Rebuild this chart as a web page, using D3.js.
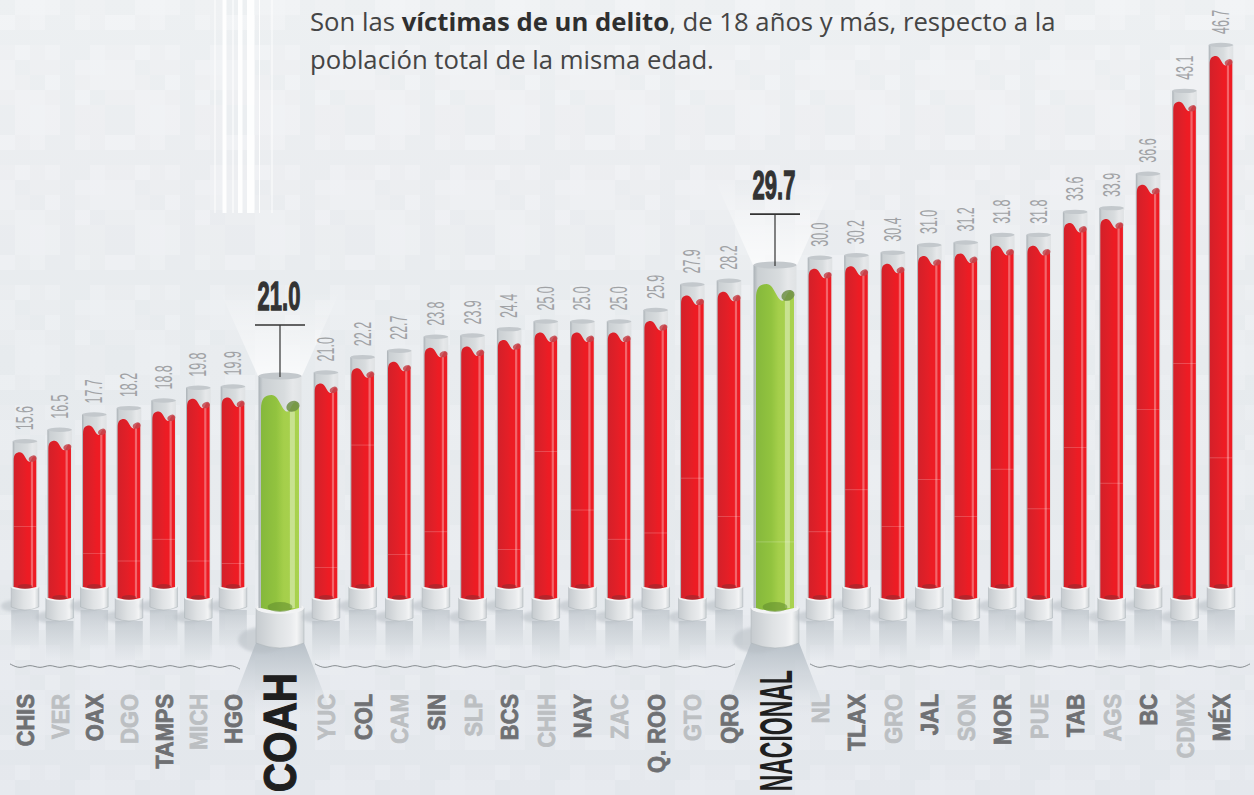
<!DOCTYPE html>
<html>
<head>
<meta charset="utf-8">
<script src="https://cdn.jsdelivr.net/npm/d3@7"></script>
<style>
  html, body { margin: 0; padding: 0; background: #e9ecf0; overflow: hidden; }
  svg { display: block; }
</style>
</head>
<body>
<script>
const width = 1254
const height = 795

const states = ['CHIS', 'VER', 'OAX', 'DGO', 'TAMPS', 'MICH', 'HGO', 'COAH', 'YUC', 'COL', 'CAM',
  'SIN', 'SLP', 'BCS', 'CHIH', 'NAY', 'ZAC', 'Q. ROO', 'GTO', 'QRO', 'NACIONAL', 'NL', 'TLAX',
  'GRO', 'JAL', 'SON', 'MOR', 'PUE', 'TAB', 'AGS', 'BC', 'CDMX', 'MÉX']
const rates = [15.6, 16.5, 17.7, 18.2, 18.8, 19.8, 19.9, 21.0, 21.0, 22.2, 22.7,
  23.8, 23.9, 24.4, 25.0, 25.0, 25.0, 25.9, 27.9, 28.2, 29.7, 30.0, 30.2,
  30.4, 31.0, 31.2, 31.8, 31.8, 33.6, 33.9, 36.6, 43.1, 46.7]
// the faint crease printed across each tube, in the same units as the rates
const creases = [8.9, null, 6.8, 6.2, 7.9, 6.2, 6.0, null, 5.7, 15.3, 6.7,
  8.5, null, 7.1, 14.8, 10.2, 7.9, 8.4, 12.7, 9.7, 7.7, 8.5, 11.8,
  8.9, 12.6, 9.7, 13.4, 10.3, 15.1, 12.3, 18.1, 21.7, 14.3]
const highlighted = ['COAH', 'NACIONAL']

const x = d3.scaleLinear()
  .domain([0, 6, 7, 8, 19, 20, 21, 32])
  .range([25, 233, 280, 326, 729, 775, 820, 1221])
const y = d3.scaleLinear().domain([0, 46.7]).range([640, 45])

const rows = states.map((name, i) => {
  const big = highlighted.includes(name)
  const last = i < 7 ? -1 : i < 20 ? 7 : 20
  const lower = !big && (i - last) % 2 === (i < 7 ? 0 : 1)
  return { name, i, rate: rates[i], crease: creases[i], big, lower }
})

const svg = d3.select('body').append('svg').attr('width', width).attr('height', height)
const defs = svg.append('defs')

function gradient(id, stops, vertical) {
  const g = defs.append('linearGradient').attr('id', id)
    .attr('x1', 0).attr('y1', 0)
    .attr('x2', vertical ? 0 : 1).attr('y2', vertical ? 1 : 0)
  stops.forEach(s => g.append('stop')
    .attr('offset', s[0]).attr('stop-color', s[1]).attr('stop-opacity', s[2] === undefined ? 1 : s[2]))
}

gradient('page', [[0, '#f1f3f5'], [0.45, '#eaedf1'], [1, '#e6e9ee']], true)
gradient('glass', [[0, '#aab1b6'], [0.1, '#cbd0d3'], [0.6, '#d8dcde'], [0.8, '#e6e8ea'], [1, '#dfe2e4']])
gradient('red', [[0, '#d32029'], [0.45, '#e41f27'], [0.6, '#ed1c24'], [1, '#ee1c24']])
gradient('green', [[0, '#85b83c'], [0.4, '#92c33f'], [0.6, '#a5cf4b'], [1, '#a9d24f']])
gradient('base', [[0, '#c6cbcf'], [0.45, '#dfe2e4'], [0.72, '#e9ebed'], [0.85, '#f3f4f5'], [1, '#ced3d6']])
gradient('mirror', [[0, '#bcc3c9', 0.75], [1, '#c5ccd2', 0]], true)
gradient('cone', [[0, '#b3bcc4', 0.95], [1, '#c9d0d6', 0]], true)
gradient('glow', [[0, '#ffffff', 0], [1, '#ffffff', 0.7]], true)

defs.append('filter').attr('id', 'soft').append('feGaussianBlur').attr('stdDeviation', 1.6)

// mottled paper behind the chart
const paper = defs.append('pattern').attr('id', 'paper').attr('patternUnits', 'userSpaceOnUse')
  .attr('width', 120).attr('height', 120)
d3.range(8).forEach(a => d3.range(8).forEach(b => {
  const k = (a * 5 + b * 3 + a * b) % 7
  paper.append('rect').attr('x', a * 15).attr('y', b * 15).attr('width', 15).attr('height', 15)
    .attr('fill', k % 2 ? '#ffffff' : '#c8ced6').attr('opacity', k % 3 === 0 ? 0.09 : 0.03)
}))
svg.append('rect').attr('width', width).attr('height', height).attr('fill', 'url(#page)')
svg.append('rect').attr('width', width).attr('height', height).attr('fill', 'url(#paper)')

// white pin stripes top left
const stripes = [[214.5, 1], [222.5, 4], [232, 2], [238, 4.5], [247, 7.5], [259, 1], [271.5, 1]]
svg.append('g').selectAll('rect').data(stripes).join('rect')
  .attr('x', d => d[0]).attr('y', 0).attr('width', d => d[1]).attr('height', 213)
  .attr('fill', '#fff').attr('opacity', (d, i) => (i === 2 ? 0.5 : 0.9))

// intro text
const intro = svg.append('text').attr('x', 310).attr('y', 31)
  .attr('font-family', '"Open Sans", sans-serif').attr('font-size', 25.7).attr('fill', '#454545')
intro.append('tspan').text('Son las ')
intro.append('tspan').attr('font-weight', 700).attr('fill', '#2f2f2f').text('víctimas de un delito')
intro.append('tspan').text(', de 18 años y más, respecto a la')
svg.append('text').attr('x', 310).attr('y', 69)
  .attr('font-family', '"Open Sans", sans-serif').attr('font-size', 25.7).attr('fill', '#454545')
  .text('población total de la misma edad.')

// highlighted tubes sit a touch lower than the common scale
const tubeTop = d => y(d.rate) + (d.big ? 3.5 : 0)

// light and shadow cones around the two highlighted tubes
const bigRows = rows.filter(d => d.big)
const cones = svg.append('g')
cones.selectAll('.glow').data(bigRows).join('path').attr('class', 'glow')
  .attr('fill', 'url(#glow)')
  .attr('d', d => {
    const cx = x(d.i)
    const t = tubeTop(d)
    return `M${cx - 22},${t}L${cx - 60},${t - 85}L${cx + 60},${t - 85}L${cx + 22},${t}Z`
  })
cones.selectAll('.cone').data(bigRows).join('path').attr('class', 'cone')
  .attr('fill', 'url(#cone)')
  .attr('d', d => {
    const cx = x(d.i)
    return `M${cx - 23},640L${cx - 52},715L${cx + 52},715L${cx + 23},640Z`
  })

// wavy divider, broken under the highlighted tubes
const wave = d3.line().curve(d3.curveBasis).x(d => d[0]).y(d => d[1])
const waveSegments = [[10, 243], [315, 740], [810, 1254]]
svg.append('g').selectAll('path').data(waveSegments).join('path')
  .attr('fill', 'none').attr('stroke', '#7d8286').attr('stroke-width', 0.9)
  .attr('d', s => wave(d3.range(s[0], s[1] + 1, 10).map((px, k) => [px, 666.5 + (k % 2 ? 2.6 : -2.6)])))

// tubes
const tube = svg.append('g').selectAll('g').data(rows).join('g')
  .attr('transform', d => `translate(${x(d.i)},0)`)

const geo = d => {
  const r = d.big ? { hw: 21.5, fw: 19, bw: 24, rise: 19, s: 1.75, bh: 40, floor: 608 }
    : { hw: 12.3, fw: 11.3, bw: 13.8, rise: 11, s: 1, bh: 23, floor: d.lower ? 598 : 587 }
  r.top = tubeTop(d)
  return r
}

// reflection and floor shadow under each base
tube.filter(d => !d.big).append('rect')
  .attr('x', d => -geo(d).bw).attr('width', d => geo(d).bw * 2)
  .attr('y', d => geo(d).floor + geo(d).bh).attr('height', 40)
  .attr('fill', 'url(#mirror)')
tube.append('ellipse')
  .attr('cx', d => -geo(d).bw * 0.75).attr('cy', d => geo(d).floor + geo(d).bh - (d.big ? 8 : 4))
  .attr('rx', d => geo(d).bw * 1.0).attr('ry', d => (d.big ? 13 : 6))
  .attr('fill', '#b7bec4').attr('opacity', 0.55).attr('filter', 'url(#soft)')

// base cylinder
const basePath = d => {
  const g = geo(d)
  const b = g.floor + g.bh
  const c = d.big ? 5 : 3
  return `M${-g.bw},${g.floor}V${b - c}Q0,${b + c} ${g.bw},${b - c}V${g.floor}Z`
}
tube.append('path').attr('d', basePath).attr('fill', 'url(#base)')
  .attr('stroke', '#a9b0b5').attr('stroke-width', 0.5)
tube.append('ellipse').attr('cy', d => geo(d).floor)
  .attr('rx', d => geo(d).bw).attr('ry', d => (d.big ? 6 : 3.2)).attr('fill', '#f2f3f4')

// glass
tube.append('rect')
  .attr('x', d => -geo(d).hw).attr('width', d => geo(d).hw * 2)
  .attr('y', d => geo(d).top).attr('height', d => geo(d).floor - geo(d).top)
  .attr('fill', 'url(#glass)')
tube.append('ellipse').attr('cy', d => geo(d).top)
  .attr('rx', d => geo(d).hw).attr('ry', d => (d.big ? 3.5 : 2.2)).attr('fill', '#c3c8cc')

// liquid with its wavy top
const liquid = d => {
  const g = geo(d)
  const p = d3.path()
  const l = -g.fw
  const w = g.fw * 2
  const py = g.top + g.rise
  const bot = g.floor
  p.moveTo(l, bot)
  p.lineTo(l, py + 8 * g.s)
  p.bezierCurveTo(l, py + 2 * g.s, l + 0.1 * w, py, l + 0.28 * w, py)
  p.bezierCurveTo(l + 0.48 * w, py, l + 0.54 * w, py + 9.5 * g.s, l + 0.7 * w, py + 9.5 * g.s)
  p.bezierCurveTo(l + 0.78 * w, py + 9.5 * g.s, l + 0.8 * w, py + 4 * g.s, l + 0.92 * w, py + 4 * g.s)
  p.bezierCurveTo(l + 0.97 * w, py + 4 * g.s, l + w, py + 6 * g.s, l + w, py + 8 * g.s)
  p.lineTo(l + w, bot)
  p.quadraticCurveTo(0, bot + (d.big ? 6 : 3), l, bot)
  p.closePath()
  return p.toString()
}
tube.append('path').attr('d', liquid).attr('fill', d => (d.big ? 'url(#green)' : 'url(#red)'))

// far side of the surface seen through the glass
const backX = d => geo(d).fw * 0.68
const backY = d => geo(d).top + geo(d).rise + 6.5 * geo(d).s
tube.append('ellipse')
  .attr('cx', backX).attr('cy', backY)
  .attr('rx', d => geo(d).fw * 0.36).attr('ry', d => 3 * geo(d).s)
  .attr('fill', d => (d.big ? '#6f8f45' : '#c4474d')).attr('opacity', 0.85)
  .attr('transform', d => `rotate(-25 ${backX(d)} ${backY(d)})`)

// highlight running down the tube
tube.append('rect')
  .attr('x', d => geo(d).fw * 0.52).attr('width', d => (d.big ? 5 : 2.2))
  .attr('y', d => geo(d).top + geo(d).rise + 9.5 * geo(d).s)
  .attr('height', d => geo(d).floor - geo(d).top - geo(d).rise - 9.5 * geo(d).s)
  .attr('fill', '#fff').attr('opacity', d => (d.big ? 0.38 : 0.32))

// crease
tube.filter(d => d.crease !== null).append('line')
  .attr('x1', d => -geo(d).fw).attr('x2', d => geo(d).fw)
  .attr('y1', d => y(d.crease)).attr('y2', d => y(d.crease))
  .attr('stroke', '#fff').attr('stroke-width', 0.7).attr('opacity', 0.3)

// dark pool at the bottom of the liquid
tube.append('ellipse').attr('cy', d => geo(d).floor - (d.big ? 1 : 0.5))
  .attr('rx', d => geo(d).fw * 0.65).attr('ry', d => (d.big ? 5 : 2.4))
  .attr('fill', d => (d.big ? '#5f8a2e' : '#8e2a30')).attr('opacity', 0.55)

// value labels, squeezed along the reading direction
tube.filter(d => !d.big).append('text')
  .attr('transform', d => `translate(8,${y(d.rate) - 11}) rotate(-90) scale(0.52,1)`)
  .attr('font-family', '"Liberation Sans", sans-serif')
  .attr('font-size', 24).attr('fill', '#a0a2a5')
  .text(d => d3.format('.1f')(d.rate))

// highlighted value with its leader
const big = tube.filter(d => d.big)
big.append('line').attr('x1', 0).attr('x2', 0)
  .attr('y1', d => tubeTop(d) - 51).attr('y2', d => tubeTop(d) + 1)
  .attr('stroke', '#333').attr('stroke-width', 1.2)
big.append('line').attr('x1', -25).attr('x2', 25)
  .attr('y1', d => tubeTop(d) - 51).attr('y2', d => tubeTop(d) - 51)
  .attr('stroke', '#333').attr('stroke-width', 1.6)
big.append('text')
  .attr('transform', d => `translate(-1,${tubeTop(d) - 66}) scale(0.55,1)`)
  .attr('text-anchor', 'middle')
  .attr('font-family', '"Liberation Sans", sans-serif')
  .attr('font-weight', 700).attr('font-size', 40).attr('fill', '#333')
  .attr('stroke', '#333').attr('stroke-width', 1.3)
  .text(d => d3.format('.1f')(d.rate))

// state names
tube.filter(d => !d.big).append('text')
  .attr('transform', 'translate(9,694) rotate(-90) scale(0.93,1)')
  .attr('text-anchor', 'end')
  .attr('font-family', '"Liberation Sans", sans-serif')
  .attr('font-weight', 700).attr('font-size', 23.5)
  .attr('stroke-width', 0.8)
  .attr('fill', d => (d.lower ? '#bcbfc2' : '#6f7073'))
  .attr('stroke', d => (d.lower ? '#bcbfc2' : '#6f7073'))
  .text(d => d.name)
tube.filter(d => d.name === 'COAH').append('text')
  .attr('transform', 'translate(16,673) rotate(-90) scale(0.88,1)')
  .attr('text-anchor', 'end')
  .attr('font-family', '"Liberation Sans", sans-serif')
  .attr('font-weight', 700).attr('font-size', 46)
  .attr('fill', '#1f1f1f').attr('stroke', '#1f1f1f').attr('stroke-width', 1.2)
  .text(d => d.name)
tube.filter(d => d.name === 'NACIONAL').append('text')
  .attr('transform', 'translate(17,670) rotate(-90) scale(0.5,1)')
  .attr('text-anchor', 'end')
  .attr('font-family', '"Liberation Sans", sans-serif')
  .attr('font-weight', 700).attr('font-size', 46)
  .attr('fill', '#1f1f1f')
  .text(d => d.name)
</script>
</body>
</html>
